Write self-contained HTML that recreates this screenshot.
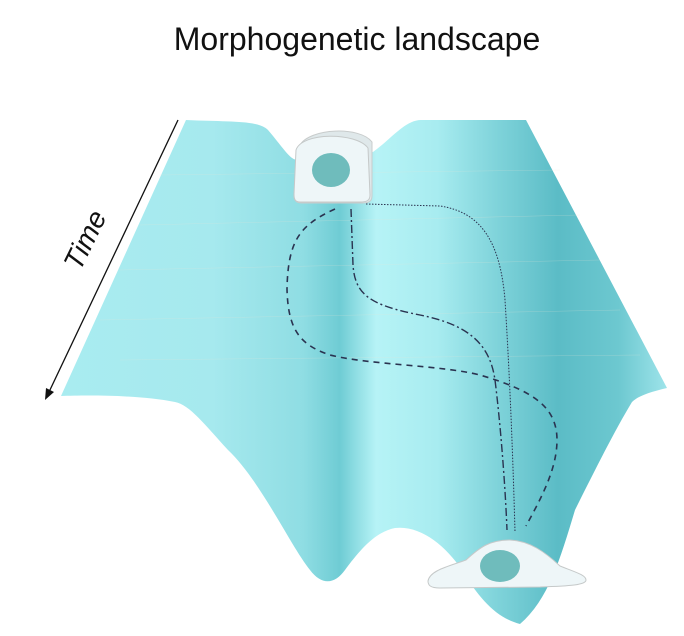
<!DOCTYPE html>
<html><head><meta charset="utf-8"><style>
html,body{margin:0;padding:0;background:#fff;width:684px;height:636px;overflow:hidden}
</style></head><body>
<svg width="684" height="636" viewBox="0 0 684 636" xmlns="http://www.w3.org/2000/svg">
<defs>
<linearGradient id="g" x1="0" y1="0" x2="1" y2="0" gradientUnits="objectBoundingBox">
<stop offset="0" stop-color="#a9ecf0"/>
<stop offset="0.25" stop-color="#a6e9ee"/>
<stop offset="0.40" stop-color="#8fdde3"/>
<stop offset="0.46" stop-color="#6fccd4"/>
<stop offset="0.52" stop-color="#b6f3f6"/>
<stop offset="0.62" stop-color="#a8ecf0"/>
<stop offset="0.72" stop-color="#7fd3da"/>
<stop offset="0.82" stop-color="#5bbcc6"/>
<stop offset="0.92" stop-color="#6dc8d0"/>
<stop offset="1" stop-color="#9ee4ea"/>
</linearGradient>
</defs>
<text x="357" y="50" text-anchor="middle" font-family="Liberation Sans, sans-serif" font-size="32" fill="#111">Morphogenetic landscape</text>
<path d="M186,120 C230,122 258,120 268,130 C285,150 290,160 298,160 L373,152 C390,140 405,120 421,120 L526,120 L667,388 C650,392 638,396 632,402 C615,430 595,470 575,510 C560,560 548,600 520,624 C497,618 480,600 462,570 C445,545 420,525 395,528 C375,532 360,550 345,570 C335,584 322,586 310,570 C290,545 260,480 228,450 C205,425 190,405 175,402 C140,395 90,395 61,396 Z" fill="url(#g)"/>
<g stroke="#e9e6d8" stroke-width="0.5" fill="none" opacity="0.35">
<path d="M100,320 L620,310 M120,270 L600,260 M140,225 L580,215 M160,175 L560,170 M120,360 L640,355"/>
</g>
<line x1="178" y1="120" x2="49" y2="392" stroke="#111" stroke-width="1.3"/>
<polygon points="45,400 46,388 54,392" fill="#111"/>
<text x="0" y="0" transform="translate(80,272) rotate(-64)" font-family="Liberation Sans, sans-serif" font-style="italic" font-size="28" fill="#111">Time</text>
<path d="M335,209 C300,225 288,240 287,289 C288,330 300,345 330,355 C370,365 440,365 480,375 C530,390 557,405 557,440 C557,470 540,500 526,526" fill="none" stroke="#2a3350" stroke-width="1.6" stroke-dasharray="6,5"/>
<path d="M351,209 L353,265 C355,295 370,305 420,315 C470,325 490,345 495,380 C500,420 505,480 507,530" fill="none" stroke="#2a3350" stroke-width="1.4" stroke-dasharray="8,3,2,3"/>
<path d="M366,204 L440,206 C480,212 500,240 505,300 C510,380 513,460 515,532" fill="none" stroke="#2a3350" stroke-width="1" stroke-dasharray="1.5,1.5"/>
<path d="M300,145 C310,128 360,126 372,142 L372,196 C372,202 368,203 362,203 L302,203 C296,203 294,200 294,196 Z" fill="#dfe8ea" stroke="#c8cccc" stroke-width="1"/>
<path d="M296,150 C302,132 356,132 368,148 L370,195 C370,201 366,202 360,202 L300,202 C295,202 294,199 294,194 Z" fill="#eef6f8" stroke="#c5c9c9" stroke-width="1"/>
<ellipse cx="331" cy="170" rx="19" ry="17" fill="#6fbcbc"/>
<path d="M428,581 C430,570 450,566 466,560 C480,547 490,540 510,540 C530,541 545,552 560,566 C575,572 586,575 586,580 C586,585 570,586 540,587 L440,588 C430,588 428,585 428,581 Z" fill="#eef6f8" stroke="#c5c9c9" stroke-width="1"/>
<ellipse cx="500" cy="566" rx="20" ry="16" fill="#6fbcbc"/>
</svg>
</body></html>
